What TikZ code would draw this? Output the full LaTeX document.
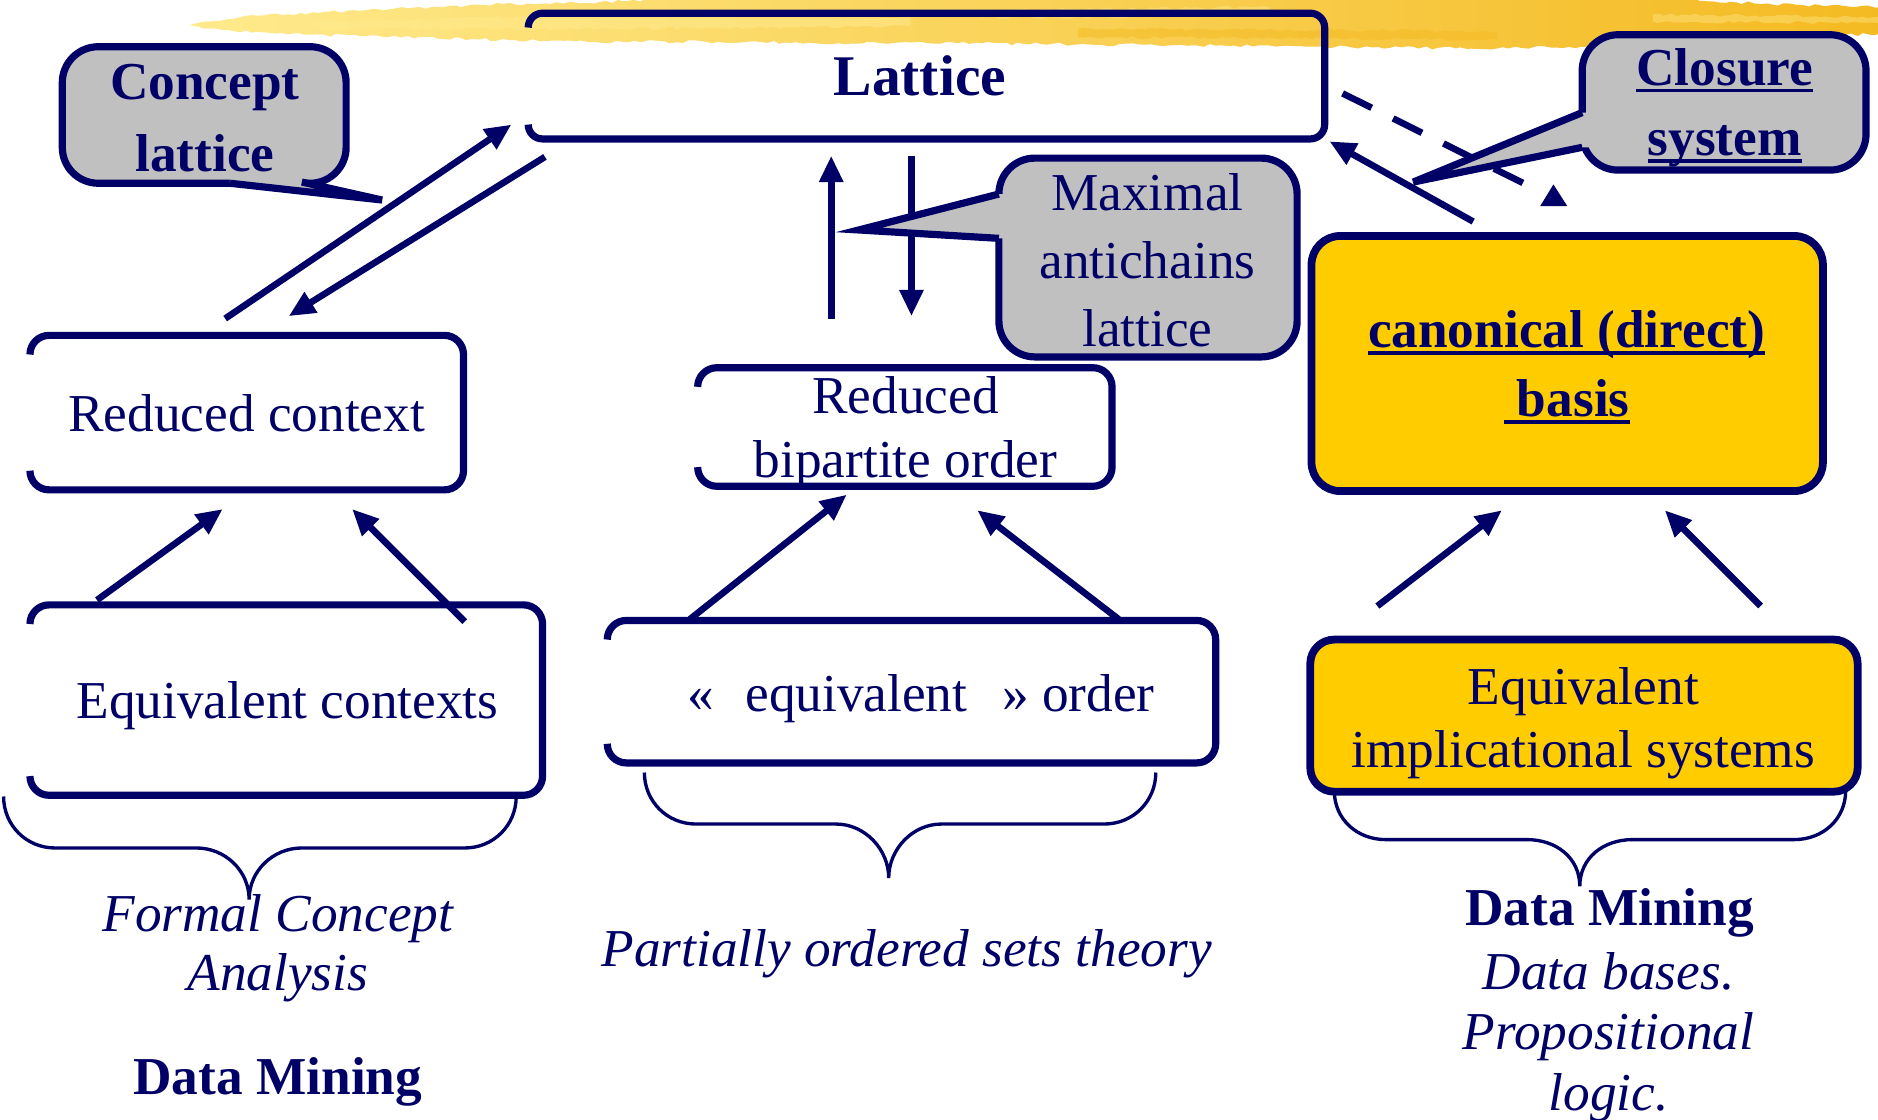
\documentclass[tikz,border=0pt]{standalone}
\usepackage{fontspec}
\setmainfont{Liberation Serif}
\usetikzlibrary{arrows.meta,calc,decorations.pathmorphing}

\definecolor{navy}{RGB}{0,0,102}
\definecolor{calloutgray}{RGB}{192,192,192}
\definecolor{boxyellow}{RGB}{255,204,0}
\definecolor{brushlight}{RGB}{255,234,140}
\definecolor{brushgold}{RGB}{249,204,52}
\definecolor{brushdeep}{RGB}{244,186,34}

% underlined text with the rule just below the baseline
\newsavebox\ulinebox
\newcommand\ulined[1]{\sbox\ulinebox{#1}\rlap{\rule[-6pt]{\wd\ulinebox}{3pt}}\usebox\ulinebox}

% frame of a node whose left side is open between its two rounded corners
\newcommand\openframe[2]{%
  \draw[openline, rounded corners=#2pt]
    ($(#1.north west)+(0,#2)$) -- (#1.north west) -- (#1.north east)
    -- (#1.south east) -- (#1.south west) -- ($(#1.south west)+(0,-#2)$);}

% pointer of a speech bubble: base point, tip, base point, shift into the bubble
\newcommand\callouttail[4]{%
  \fill[calloutgray] ($(#1)+#4$) -- (#1) -- (#2) -- (#3) -- ($(#3)+#4$) -- cycle;
  \draw[calloutline] (#1) -- (#2) -- (#3);}

% curly brace: left x, right x, top y, bar y, middle x, cusp y
\newcommand\curlybrace[6]{%
  \draw[bracestroke] (#1,#3) .. controls (#1,#3+24) and (#1+19,#4) .. (#1+43,#4)
    -- (#5-44,#4) .. controls (#5-20,#4) and (#5,#6-24) .. (#5,#6)
    .. controls (#5,#6-24) and (#5+20,#4) .. (#5+44,#4)
    -- (#2-43,#4) .. controls (#2-19,#4) and (#2,#3+24) .. (#2,#3);}

\tikzset{
  shapebox/.style={rectangle, inner sep=0pt, outer sep=0pt},
  openline/.style={draw=navy, line width=6pt},
  yellowbox/.style={shapebox, draw=navy, line width=6.5pt, fill=boxyellow, rounded corners=#1},
  calloutbox/.style={shapebox, draw=navy, line width=6pt, fill=calloutgray, rounded corners=30pt},
  calloutline/.style={draw=navy, line width=6pt, line join=miter},
  link/.style={draw=navy, line width=5.5pt, -{Triangle[length=22pt,width=19pt]}},
  dashlink/.style={draw=navy, line width=5.5pt, dash pattern=on 27pt off 20pt},
  bracestroke/.style={draw=navy, line width=2.8pt},
  % multi-line texts sit on the baseline of their last line
  txt/.style={text=navy, inner sep=0pt, anchor=base, align=center},
  brush/.style={decorate, decoration={random steps, segment length=5pt, amplitude=1.3pt}},
}

\begin{document}
\begin{tikzpicture}[x=1pt, y=-1pt]
\useasboundingbox (0,0) rectangle (1568,935);
\fill[white] (0,0) rectangle (1568,935);

% ---- yellow brush stroke along the top ----
\pgfmathsetseed{11}
\shade[brush, left color=brushlight, middle color=brushgold, right color=brushdeep]
  (158,21) -- (170,18) -- (190,16) -- (215,13) -- (240,12) -- (270,10) -- (300,9)
  -- (330,7) -- (370,6) -- (400,4) -- (440,3) -- (480,2) -- (520,1) -- (560,-2)
  -- (1400,-2) -- (1450,2) -- (1500,4) -- (1540,5) -- (1570,6)
  -- (1570,28) -- (1520,30) -- (1470,32) -- (1420,35) -- (1370,37) -- (1320,39)
  -- (1270,40) -- (1200,40) -- (1100,39) -- (1000,38) -- (900,37) -- (800,36)
  -- (700,36) -- (600,35) -- (520,35) -- (460,34) -- (400,33) -- (350,31)
  -- (300,30) -- (260,29) -- (220,27) -- (190,25) -- (170,24) -- cycle;
\fill[brush, brushlight, opacity=0.55] (260,18) -- (520,12) -- (760,14) -- (760,22) -- (520,24) -- (260,24) -- cycle;
\fill[brush, brushlight, opacity=0.45] (820,8) -- (1060,6) -- (1060,13) -- (820,15) -- cycle;
\fill[brush, brushdeep, opacity=0.5] (900,24) -- (1250,26) -- (1250,33) -- (900,31) -- cycle;
\fill[brush, brushlight, opacity=0.4] (1380,12) -- (1568,14) -- (1568,19) -- (1380,18) -- cycle;

% ---- frames ----
\node[shapebox, minimum width=665, minimum height=105] (lattice) at (773.5,63.5) {};
\openframe{lattice}{12}
\node[shapebox, minimum width=362, minimum height=129] (redctx) at (206,344.5) {};
\openframe{redctx}{16}
\node[shapebox, minimum width=428, minimum height=159] (eqctx) at (239,584.5) {};
\openframe{eqctx}{16}
\node[shapebox, minimum width=346, minimum height=99] (redbip) at (755.5,356.5) {};
\openframe{redbip}{16}
\node[shapebox, minimum width=508, minimum height=119] (eqord) at (761,577.5) {};
\openframe{eqord}{16}
\node[yellowbox=24pt, minimum width=427, minimum height=213] (canon) at (1308.5,303.5) {};
\node[yellowbox=20pt, minimum width=457, minimum height=127] (implic) at (1322.5,597.5) {};

% ---- connectors ----
\coordinate (a1s) at (188,266);  \coordinate (a1e) at (427,104);
\coordinate (a2s) at (455,131);  \coordinate (a2e) at (241,264);
\coordinate (a3s) at (694,266);  \coordinate (a3e) at (694,130);
\coordinate (a4s) at (761,130);  \coordinate (a4e) at (761,264);
\coordinate (a5s) at (1230,185); \coordinate (a5e) at (1110,118);
\coordinate (d1s) at (1121,78);  \coordinate (d1e) at (1272,153);
\coordinate (dtip) at (1297,154);
\coordinate (b1s) at (81,501);   \coordinate (b1e) at (186,425);
\coordinate (b2s) at (388,519);  \coordinate (b2e) at (294,425);
\coordinate (c1s) at (576,517);  \coordinate (c1e) at (707,413);
\coordinate (c2s) at (934,517);  \coordinate (c2e) at (816,426);
\coordinate (e1s) at (1150,506); \coordinate (e1e) at (1254,426);
\coordinate (e2s) at (1470,506); \coordinate (e2e) at (1390,426);

\draw[link] (a1s) -- (a1e);
\draw[link] (a2s) -- (a2e);
\draw[link] (a3s) -- (a3e);
\draw[link] (a4s) -- (a4e);
\draw[link] (a5s) -- (a5e);
\draw[dashlink] (d1s) -- (d1e);
\fill[navy] (dtip) -- ++(-11,18) -- ++(22.5,0) -- cycle;
\draw[link] (b1s) -- (b1e);
\draw[link] (b2s) -- (b2e);
\draw[link] (c1s) -- (c1e);
\draw[link] (c2s) -- (c2e);
\draw[link] (e1s) -- (e1e);
\draw[link] (e2s) -- (e2e);

% ---- speech bubbles ----
\node[calloutbox, minimum width=237, minimum height=114] (concept) at (170.5,96) {};
\coordinate (ct1) at (192,153); \coordinate (ctip) at (319,167); \coordinate (ct2) at (252,152);
\callouttail{ct1}{ctip}{ct2}{(0,-6)}

\node[calloutbox, minimum width=237, minimum height=113] (closure) at (1439.5,85.5) {};
\coordinate (cl1) at (1321,94); \coordinate (cltip) at (1180,152); \coordinate (cl2) at (1321,123);
\callouttail{cl1}{cltip}{cl2}{(6,0)}

\node[calloutbox, minimum width=249, minimum height=166] (maxanti) at (958.5,215) {};
\coordinate (mx1) at (834,162); \coordinate (mxtip) at (717,192); \coordinate (mx2) at (834,199);
\callouttail{mx1}{mxtip}{mx2}{(6,0)}

% ---- braces ----
\curlybrace{3}{431}{665}{708}{208}{751}
\curlybrace{538}{965}{645}{688}{742}{733}
\curlybrace{1114}{1541}{660}{701}{1319}{740}

% ---- texts ----
\node[txt, font=\bfseries\fontsize{48}{58}\selectfont] (lattxt) at (768,80) {Lattice};
\node[txt, font=\bfseries\fontsize{44.5}{60}\selectfont] (concepttxt) at (171,143) {Concept\\lattice};
\node[txt, font=\bfseries\fontsize{44.5}{59}\selectfont] (closuretxt) at (1440,130) {\ulined{Closure}\\\ulined{system}};
\node[txt, font=\fontsize{44.5}{56.5}\selectfont] (maxantitxt) at (958,289) {Maximal\\antichains\\lattice};
\node[txt, font=\fontsize{44.5}{54}\selectfont] (redbiptxt) at (756,399) {Reduced\\bipartite order};
\node[txt, font=\fontsize{44.5}{54}\selectfont] (redctxtxt) at (206,360) {Reduced context};
\node[txt, font=\fontsize{44.5}{54}\selectfont] (eqctxtxt) at (240,600) {Equivalent contexts};
\node[txt, font=\fontsize{44.5}{54}\selectfont] (eqordtxt) at (769,594) {«\hspace{26pt}equivalent\hspace{29pt}» order};
\node[txt, font=\bfseries\fontsize{44.5}{58}\selectfont] (canontxt) at (1308,348) {\ulined{canonical (direct)}\\\ulined{\ basis}};
\node[txt, font=\fontsize{44.5}{53}\selectfont] (implictxt) at (1322,641) {Equivalent\\implicational systems};
\node[txt, font=\itshape\fontsize{44.5}{49}\selectfont] (fcatxt) at (232,827) {Formal Concept\\Analysis};
\node[txt, font=\bfseries\fontsize{44.5}{54}\selectfont] (dmleft) at (232,914) {Data Mining};
\node[txt, font=\itshape\fontsize{44.5}{54}\selectfont] (posettxt) at (757,807) {Partially ordered sets theory};
\node[txt, font=\bfseries\fontsize{44.5}{54}\selectfont] (dmright) at (1344,773) {Data Mining};
\node[txt, font=\itshape\fontsize{44.5}{50.5}\selectfont] (dbtxt) at (1343,927) {Data bases.\\Propositional\\logic.};
\end{tikzpicture}
\end{document}
